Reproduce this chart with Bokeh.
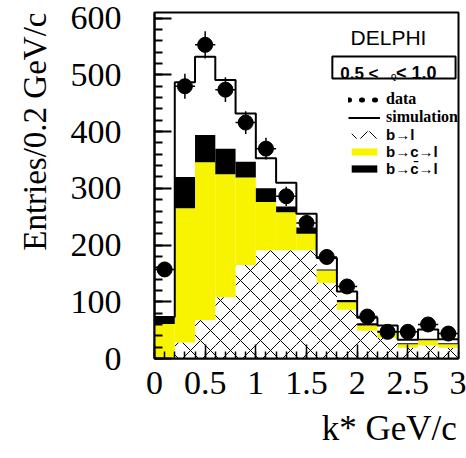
from bokeh.plotting import figure
from bokeh.models import (Range1d, SingleIntervalTicker, ColumnDataSource, Legend,
                          LegendItem, Label, BoxAnnotation, Title)
from bokeh.embed import file_html
from bokeh.resources import INLINE

# ---- data ----
bin_lo = [0.0, 0.2, 0.4, 0.6, 0.8, 1.0, 1.2, 1.4, 1.6, 1.8, 2.0, 2.2, 2.4, 2.6, 2.8]
bin_hi = [0.2, 0.4, 0.6, 0.8, 1.0, 1.2, 1.4, 1.6, 1.8, 2.0, 2.2, 2.4, 2.6, 2.8, 3.0]
data_counts = [157, 480, 553, 474, 416, 370, 286, 239, 179, 127, 74, 47, 47, 60, 44]
data_err = [13, 22, 24, 22, 20, 19, 17, 15, 13, 11, 9, 7, 7, 8, 7]
sim_total = [73, 487, 532, 491, 432, 353, 310, 255, 177, 118, 72, 58, 33, 51, 34]
b_l = [0, 28, 68, 108, 165, 191, 191, 191, 133, 86, 49, 36, 19, 23, 19]
b_c_l = [61, 237, 278, 217, 154, 85, 67, 29, 22, 13, 9, 10, 6, 9, 6]
b_cbar_l = [12, 55, 48, 45, 28, 24, 10, 11, 2, 4, 4, 3, 2, 3, 2]
x_tick_interval = 0.5
y_tick_interval = 100

YELLOW = "#f8f400"
SERIF = "Liberation Serif"
SANS = "Liberation Sans"

centers = [(a + b) / 2 for a, b in zip(bin_lo, bin_hi)]

p = figure(width=466, height=458, x_range=Range1d(0, 3), y_range=Range1d(0, 610),
           output_backend="svg", toolbar_location=None,
           min_border_left=152, min_border_right=8, min_border_top=12, min_border_bottom=100)
p.xgrid.visible = False
p.ygrid.visible = False
p.outline_line_color = "black"
p.outline_line_width = 2
p.outline_line_alpha = 1
p.background_fill_color = "white"
p.border_fill_color = "white"

# stacked components
src = ColumnDataSource(dict(x=centers, b_l=b_l, b_c_l=b_c_l, b_cbar_l=b_cbar_l))
stack = p.vbar_stack(["b_l", "b_c_l", "b_cbar_l"], x="x", width=0.2, source=src,
                     fill_color=["white", YELLOW, "black"], line_color=None,
                     hatch_pattern=["x", " ", " "], hatch_color="black",
                     hatch_scale=20, hatch_weight=1)

# simulation outline
edges = bin_lo + [bin_hi[-1]]
sim_r = p.step(x=edges, y=sim_total + [sim_total[-1]], mode="after",
               line_color="black", line_width=2)

# data with error bars
dsrc = ColumnDataSource(dict(
    x=centers, y=data_counts, lo=bin_lo, hi=bin_hi,
    ylo=[v - e for v, e in zip(data_counts, data_err)],
    yhi=[v + e for v, e in zip(data_counts, data_err)]))
p.segment(x0="x", y0="ylo", x1="x", y1="yhi", source=dsrc, line_color="black", line_width=1.5)
p.segment(x0="lo", y0="y", x1="hi", y1="y", source=dsrc, line_color="black", line_width=1.5)
p.scatter(x="x", y="y", source=dsrc, size=15, color="black")

# legend-only dotted line for "data" (placed outside the visible ranges)
dots = p.line(x=[-2, -1], y=[-100, -100], line_color="black", line_width=5,
              line_dash="1 12", line_cap="round")

# axes
xa = p.xaxis[0]
xa.ticker = SingleIntervalTicker(interval=x_tick_interval, num_minor_ticks=5)
xa.major_tick_in = 14
xa.major_tick_out = 0
xa.minor_tick_in = 7
xa.minor_tick_out = 0
xa.major_tick_line_width = 1.5
xa.minor_tick_line_width = 1.5
xa.axis_line_width = 2
xa.major_label_text_font = SERIF
xa.major_label_text_font_size = "34px"
xa.major_label_text_color = "black"
xa.major_label_standoff = 13

ya = p.yaxis[0]
ya.ticker = SingleIntervalTicker(interval=y_tick_interval, num_minor_ticks=5)
ya.major_tick_in = 17
ya.major_tick_out = 0
ya.minor_tick_in = 8
ya.minor_tick_out = 0
ya.major_tick_line_width = 2
ya.minor_tick_line_width = 2
ya.axis_line_width = 2
ya.major_label_text_font = SERIF
ya.major_label_text_font_size = "34px"
ya.major_label_text_color = "black"
ya.major_label_standoff = 33

# axis titles, aligned to the far end as in the reference
p.add_layout(Title(text="Entries/0.2 GeV/c", align="right", text_font=SERIF,
                   text_font_size="33px", text_font_style="normal", text_color="black",
                   standoff=29), "left")
p.add_layout(Title(text="k*  GeV/c", align="right", text_font=SERIF, offset=-7,
                   text_font_size="35px", text_font_style="normal", text_color="black",
                   standoff=20), "below")

# legends
leg1 = Legend(items=[LegendItem(label="data", renderers=[dots]),
                     LegendItem(label="simulation", renderers=[sim_r])],
              location=(194, 232))
leg2 = Legend(items=[LegendItem(label="b\u2192l", renderers=[stack[0]]),
                     LegendItem(label="b\u2192c\u2192l", renderers=[stack[1]]),
                     LegendItem(label="b\u2192c\u0304\u2192l", renderers=[stack[2]])],
              location=(194, 181))
for lg, font, size in ((leg1, SERIF, "16px"), (leg2, SANS, "15px")):
    lg.border_line_color = None
    lg.background_fill_alpha = 0
    lg.label_text_font = font
    lg.label_text_font_size = size
    lg.label_text_font_style = "bold"
    lg.label_text_color = "black"
    lg.glyph_width = 32
    lg.glyph_height = 9
    lg.label_standoff = 6
    lg.spacing = 0
    lg.padding = 0
    lg.margin = 0
    lg.label_height = 16
    p.add_layout(lg)

# DELPHI and selection box
p.add_layout(Label(x=2.309, y=566, text="DELPHI", text_align="center",
                   text_baseline="alphabetic",
                   text_font="'Liberation Sans Narrow', 'Liberation Sans'",
                   text_font_size="21px", text_color="black"))
p.add_layout(BoxAnnotation(left=1.755, right=2.971, bottom=493.7, top=532.5,
                           fill_color=None, line_color="black", line_width=2, line_alpha=1))
p.add_layout(Label(x=1.833, y=503, text="0.5 <", text_font=SANS, text_font_style="bold",
                   text_font_size="17px", text_color="black", text_baseline="alphabetic"))
p.add_layout(Label(x=2.333, y=497, text="Q", text_font=SANS, text_font_style="bold",
                   text_font_size="7px", text_color="black", text_baseline="alphabetic"))
p.add_layout(Label(x=2.382, y=503, text="< 1.0", text_font=SANS, text_font_style="bold",
                   text_font_size="18px", text_color="black", text_baseline="alphabetic"))

open("out.html", "w").write(file_html(p, INLINE))
